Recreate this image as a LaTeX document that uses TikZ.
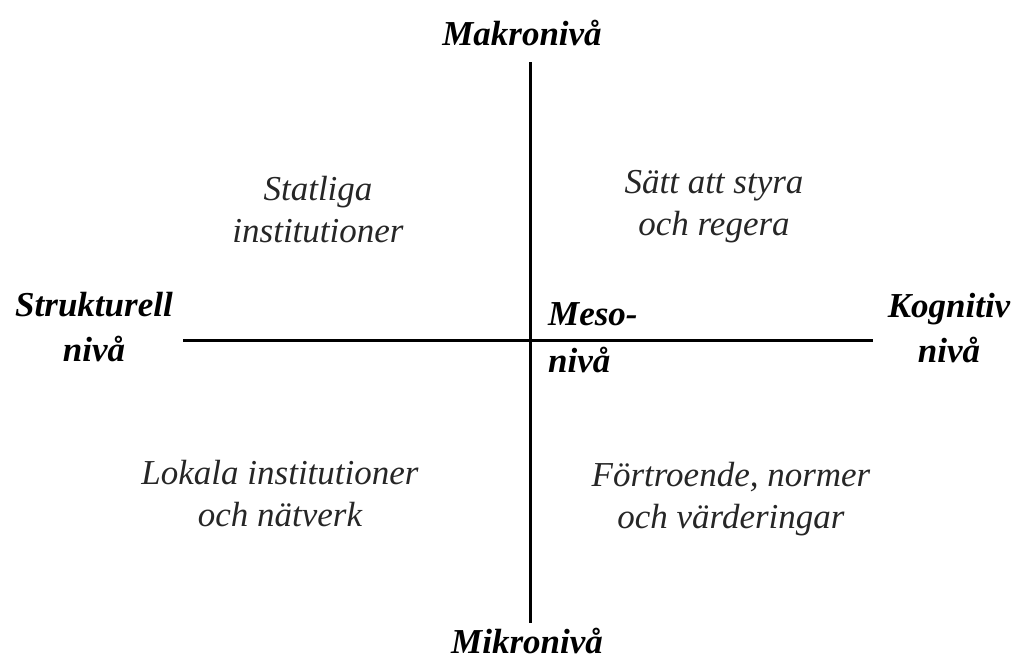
\documentclass[tikz,border=0pt]{standalone}
\usepackage{fontspec}
\setmainfont{Liberation Serif}
\usetikzlibrary{positioning}
\tikzset{
  axislabel/.style = {font=\fontsize{35}{45}\selectfont\bfseries\itshape,
                      align=center, inner sep=0pt, anchor=base},
  quadlabel/.style = {font=\fontsize{35}{42}\selectfont\itshape,
                      align=center, inner sep=0pt, anchor=base, text=black!85},
  axisline/.style  = {line width=3pt}
}
\begin{document}
\begin{tikzpicture}[x=1pt, y=-1pt]
  \useasboundingbox (0,0) rectangle (1015,665);
  % axes
  \coordinate (top)    at (530,62);
  \coordinate (bottom) at (530,623);
  \coordinate (left)   at (183,340);
  \coordinate (right)  at (873,340);
  \draw [axisline] (top) -- (bottom);
  \draw [axisline] (left) -- (right);
  % levels (base = last line)
  \node [axislabel] (makro)  at (522,45)  {Makronivå};
  \node [axislabel] (mikro)  at (527,653) {Mikronivå};
  \node [axislabel] (strukt) at (94,361)  {Strukturell\\nivå};
  \node [axislabel] (kogn)   at (949,362) {Kognitiv\\nivå};
  \node [axislabel, align=left, anchor=base west,
         font=\fontsize{35}{47}\selectfont\bfseries\itshape] (meso) at (548,372) {Meso-\\nivå};
  % fields
  \node [quadlabel] (statlig) at (318,242) {Statliga\\institutioner};
  \node [quadlabel] (styra)   at (714,235) {Sätt att styra\\och regera};
  \node [quadlabel] (lokal)   at (280,526) {Lokala institutioner\\och nätverk};
  \node [quadlabel] (tillit)  at (731,528) {Förtroende, normer\\och värderingar};
\end{tikzpicture}
\end{document}
